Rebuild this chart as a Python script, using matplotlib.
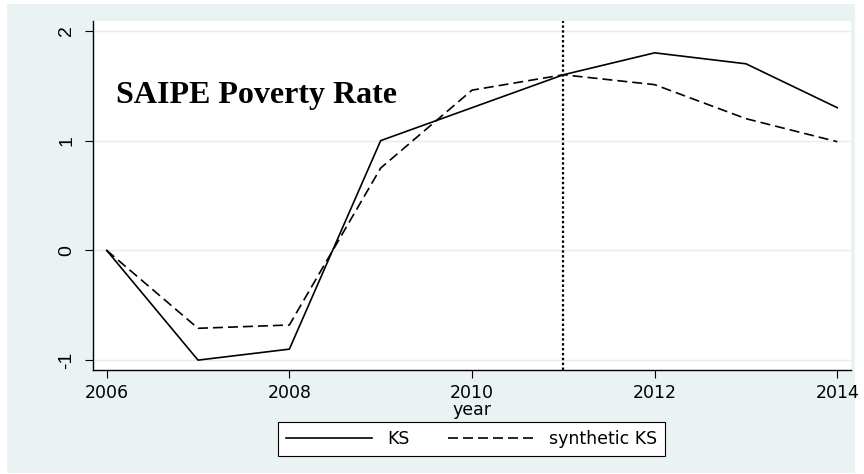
import matplotlib
matplotlib.use("Agg")
import matplotlib.pyplot as plt
from matplotlib.patches import Rectangle

# Series values
years = [2006, 2007, 2008, 2009, 2010, 2011, 2012, 2013, 2014]
ks = [0.0, -1.0, -0.9, 1.0, 1.3, 1.6, 1.8, 1.7, 1.3]
synthetic_ks = [0.0, -0.71, -0.68, 0.75, 1.46, 1.6, 1.51, 1.2, 0.99]
treatment_year = 2011
x_ticks = [2006, 2008, 2010, 2012, 2014]
y_ticks = [-1, 0, 1, 2]
title_text = "SAIPE Poverty Rate"

W, H = 864, 474
BG = "#EAF2F3"
sans = ["DejaVu Sans"]
narrow = ["Liberation Sans Narrow", "Liberation Sans", "DejaVu Sans"]
serif = ["Liberation Serif", "DejaVu Serif"]

fig = plt.figure(figsize=(W / 100, H / 100), dpi=100, facecolor="white")

# Outer graph region
fig.patches.append(Rectangle((7 / W, 1 - 473 / H), (855 - 7) / W, (473 - 4) / H,
                             transform=fig.transFigure, facecolor=BG,
                             edgecolor="none", zorder=-10))

ax = fig.add_axes([93 / W, 1 - 370 / H, (851 - 93) / W, (370 - 21) / H])
ax.set_facecolor("white")

ax.plot(years, ks, color="black", lw=1.2, label="KS")
ax.plot(years, synthetic_ks, color="black", lw=1.2, linestyle=(0, (6, 3)),
        label="synthetic KS")
ax.axvline(treatment_year, color="black", lw=1.6, linestyle=(0, (1.1, 1.1)))

ax.set_xlim(2005.85, 2014.15)
ax.set_ylim(-1.09, 2.09)
ax.set_xticks(x_ticks)
ax.set_yticks(y_ticks)
ax.set_xticklabels([str(t) for t in x_ticks], fontfamily=sans, fontsize=12.5)
ax.set_yticklabels([str(t) for t in y_ticks], fontfamily=narrow, fontsize=14,
                   rotation=90, va="center")
ax.tick_params(axis="both", direction="out", length=5.8, width=0.8, color="black")
ax.tick_params(axis="x", pad=4.5)
ax.tick_params(axis="y", pad=7)
ax.grid(axis="y", color="#E3EDEF", lw=1.0)
ax.set_axisbelow(True)

for side in ("top", "right"):
    ax.spines[side].set_visible(False)
for side in ("left", "bottom"):
    ax.spines[side].set_color("black")
    ax.spines[side].set_linewidth(1.0)

ax.set_xlabel("year", fontfamily=sans, fontsize=12.5, labelpad=-1)

fig.text(116 / W, 1 - 95 / H, title_text, fontfamily=serif,
         fontweight="bold", fontsize=23, va="center", ha="left")

leg = fig.legend(loc="center", bbox_to_anchor=(471.5 / W, 1 - 439 / H),
                 ncol=2, frameon=True, fancybox=False, edgecolor="black",
                 facecolor="white", framealpha=1, handlelength=5.0,
                 handletextpad=0.85, columnspacing=2.2, borderpad=0.45,
                 prop={"family": sans, "size": 12.5})
leg.get_frame().set_linewidth(0.8)

fig.savefig("out.png", dpi=100, facecolor="white")
